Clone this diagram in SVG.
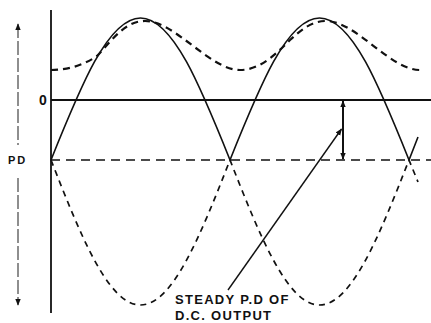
<svg xmlns="http://www.w3.org/2000/svg" width="431" height="323" viewBox="0 0 431 323">
<style>
.solid{fill:none;stroke:#111;stroke-width:1.6}
.ripple{fill:none;stroke:#111;stroke-width:2.2;stroke-dasharray:7 5}
.neg{fill:none;stroke:#111;stroke-width:1.7;stroke-dasharray:6 5}
.ref{fill:none;stroke:#111;stroke-width:1.5;stroke-dasharray:9 6}
.axis{fill:none;stroke:#111;stroke-width:1.8}
.side{fill:none;stroke:#444;stroke-width:1.2;stroke-dasharray:14 3}
.lbl{font-family:"Liberation Sans",Arial,sans-serif;font-weight:bold;fill:#111}
</style>
<defs>
<marker id="ah" viewBox="0 0 10 10" refX="9" refY="5" markerWidth="7" markerHeight="7" orient="auto-start-reverse" markerUnits="userSpaceOnUse">
<path d="M0,1 L10,5 L0,9 z" fill="#111"/>
</marker>
</defs>
<rect width="431" height="323" fill="#fff"/>
<g id="axes">
<line class="axis" x1="51" y1="10" x2="51" y2="313"/>
<line class="axis" x1="51" y1="100" x2="431" y2="100" stroke-width="1.5"/>
<line class="ref" x1="51" y1="160" x2="431" y2="160"/>
</g>
<g id="pd-arrow">
<line class="side" x1="18" y1="24" x2="18" y2="145" marker-start="url(#ah)"/>
<line class="side" x1="18" y1="178" x2="18" y2="305" marker-end="url(#ah)"/>
<text class="lbl" x="8" y="164" font-size="11" letter-spacing="2">PD</text>
<text class="lbl" x="39" y="105" font-size="14">0</text>
</g>
<g id="rectified-wave">
<path class="solid" d="M51,160 C80.19,87.25 108.11,18 140.5,18 C172.89,18 200.81,87.25 230,160 C259.19,87.25 287.11,18 319.5,18 C351.89,18 379.81,87.25 409,160 L418,137"/>
</g>
<g id="negative-halves">
<path class="neg" d="M51,160 C80.19,234.3 108.11,305 140.5,305 C172.89,305 200.81,234.3 230,160 C259.19,234.3 287.11,305 319.5,305 C351.89,305 379.81,234.3 409,160 L418,182"/>
</g>
<g id="ripple">
<path class="ripple" d="M51,70 C68,70 84,65 97,56 C112,40 125,21 145,21 C175,21 210,70 240,70 C260,70 276,54 290,40 C302,29 312,21 326,21 C356,21 390,70 420,70"/>
</g>
<g id="connectors">
<line x1="343" y1="101" x2="343" y2="159" stroke="#111" stroke-width="2" marker-start="url(#ah)" marker-end="url(#ah)"/>
<line x1="228" y1="290" x2="341.5" y2="129" stroke="#111" stroke-width="1.4" marker-end="url(#ah)"/>
</g>
<g id="caption">
<text class="lbl" x="175" y="304" font-size="13" letter-spacing="1.3">STEADY P.D OF</text>
<text class="lbl" x="175" y="320" font-size="13" letter-spacing="1.3">D.C. OUTPUT</text>
</g>
</svg>
